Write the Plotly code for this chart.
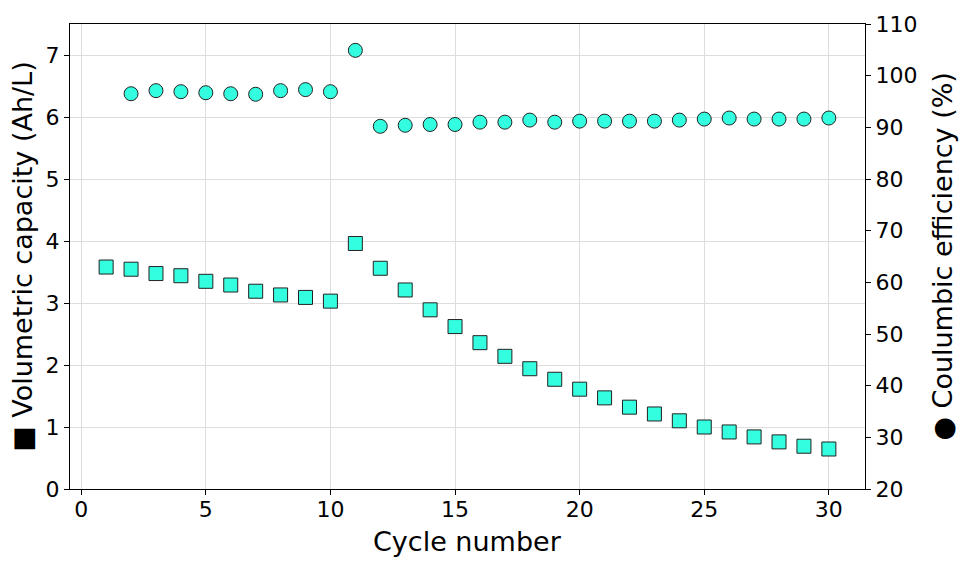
import plotly.graph_objects as go

cycles = list(range(1, 31))
capacity = [3.58, 3.545, 3.475, 3.44, 3.35, 3.29, 3.19, 3.13, 3.09, 3.03,
            3.96, 3.56, 3.21, 2.89, 2.62, 2.36, 2.14, 1.94, 1.77, 1.61,
            1.47, 1.32, 1.21, 1.10, 1.00, 0.92, 0.84, 0.76, 0.69, 0.645]
ce_cycles = list(range(2, 31))
efficiency = [96.5, 97.1, 96.9, 96.7, 96.5, 96.4, 97.1, 97.3, 96.9,
              104.9, 90.2, 90.4, 90.55, 90.55, 91.0, 91.0, 91.4, 91.0, 91.2,
              91.2, 91.2, 91.2, 91.4, 91.6, 91.8, 91.6, 91.6, 91.6, 91.8]

xlabel = "Cycle number"
ylabel_left = "■ Volumetric capacity (Ah/L)"
ylabel_right = "● Coulumbic efficiency (%)"

fill = "#33FFE0"
edge = "#222222"
font = "DejaVu Sans"

fig = go.Figure()
fig.add_trace(go.Scatter(
    x=cycles, y=capacity, mode="markers", yaxis="y",
    marker=dict(symbol="square", size=14, color=fill, line=dict(color=edge, width=1)),
    showlegend=False))
fig.add_trace(go.Scatter(
    x=ce_cycles, y=efficiency, mode="markers", yaxis="y2",
    marker=dict(symbol="circle", size=14, color=fill, line=dict(color=edge, width=1)),
    showlegend=False))

axis_common = dict(showline=True, linecolor="black", linewidth=1.2,
                   ticks="outside", ticklen=5, tickwidth=1.2, tickcolor="black",
                   tickfont=dict(family=font, size=22, color="black"), zeroline=False)

fig.update_layout(
    width=966, height=566,
    margin=dict(l=70, r=101, t=20, b=77),
    plot_bgcolor="white", paper_bgcolor="white",
    font=dict(family=font, color="black"),
    xaxis=dict(range=[-0.45, 31.45], tickvals=[0, 5, 10, 15, 20, 25, 30],
               showgrid=True, gridcolor="#dddddd", gridwidth=1, mirror=True,
               ticklabelstandoff=-5, **axis_common),
    yaxis=dict(range=[0, 7.5], tickvals=[0, 1, 2, 3, 4, 5, 6, 7],
               showgrid=True, gridcolor="#dddddd", gridwidth=1, **axis_common),
    yaxis2=dict(range=[20, 110], tickvals=list(range(20, 111, 10)), overlaying="y",
                side="right", showgrid=False, **axis_common),
    annotations=[
        dict(text=xlabel, xref="paper", yref="paper", x=0.5, y=-0.113, xanchor="center",
             yanchor="middle", showarrow=False, font=dict(family=font, size=27, color="black")),
        dict(text=ylabel_left, xref="paper", yref="paper", x=-0.060, y=0.5, xanchor="center",
             yanchor="middle", textangle=-90, showarrow=False,
             font=dict(family=font, size=27, color="black")),
        dict(text=ylabel_right, xref="paper", yref="paper", x=1.097, y=0.5, xanchor="center",
             yanchor="middle", textangle=-90, showarrow=False,
             font=dict(family=font, size=27, color="black")),
    ],
)

fig.write_html("out.html", config={"displayModeBar": False},
               post_script="document.body.style.margin='0';document.body.style.padding='0';")
